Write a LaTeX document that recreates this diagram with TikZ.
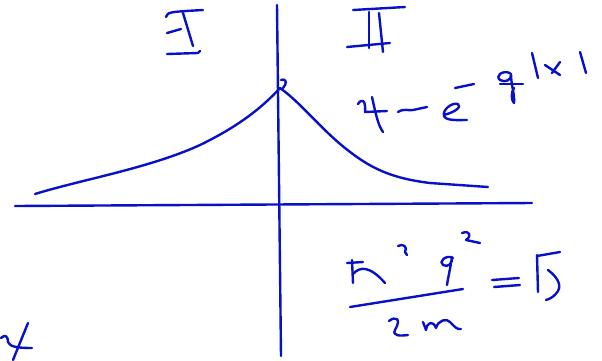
\documentclass[tikz,border=0pt]{standalone}
\definecolor{ink}{RGB}{8,16,200}
\begin{document}
\begin{tikzpicture}[x=1pt,y=-1pt,pen/.style={draw=ink,line width=2.4pt,line cap=round,line join=round}]
\useasboundingbox (0,0) rectangle (602,360);
% axes
\draw[pen] (15,206) -- (532,203);
\draw[pen] (277,5) -- (281,356);
% curve
\draw[pen] (35,194) .. controls (80,180) and (150,168) .. (200,145) .. controls (235,128) and (260,110) .. (280,88)
  .. controls (300,102) and (320,128) .. (345,148) .. controls (370,168) and (390,178) .. (430,183) -- (488,187);
\draw[pen] (281,80) .. controls (287,78) and (287,84) .. (283,88);
% Roman I
\draw[pen] (166,17) .. controls (168,12) .. (203,10);
\draw[pen] (183,13) .. controls (188,30) .. (193,46);
\draw[pen] (167,33) -- (181,29);
\draw[pen] (167,54) -- (198,53) -- (200,51);
% Roman II
\draw[pen] (353,10) -- (405,7);
\draw[pen] (347,47) -- (390,43);
\draw[pen] (369,12) -- (369,48);
\draw[pen] (379,13) -- (383,52);
% psi ~ e^{-q|x|}
\draw[pen] (358,104) .. controls (362,98) and (366,100) .. (365,112) -- (387,111);
\draw[pen] (372,97) .. controls (376,115) and (378,125) .. (383,132);
\draw[pen] (398,112) .. controls (404,108) and (409,111) .. (413,110) -- (427,107);
\draw[pen] (444,115) .. controls (455,112) and (462,107) .. (458,104) .. controls (452,102) and (442,110) .. (444,116) .. controls (446,121) and (458,120) .. (467,120);
\draw[pen] (455,88) -- (474,84);
\draw[pen] (510,73) .. controls (502,70) and (495,76) .. (500,80) .. controls (505,83) and (512,80) .. (511,74) .. controls (511,85) and (515,95) .. (514,103) .. controls (511,100) and (511,92) .. (514,88);
\draw[pen] (500,84) -- (523,84);
\draw[pen] (532,53) -- (538,78);
\draw[pen] (545,65) -- (560,75);
\draw[pen] (560,62) -- (552,73);
\draw[pen] (580,52) -- (586,73);
% hbar^2 q^2 / 2m = B
\draw[pen] (347,263) -- (363,262);
\draw[pen] (352,260) -- (353,283);
\draw[pen] (353,274) .. controls (360,266) and (370,266) .. (385,283);
\draw[pen] (398,246) .. controls (403,243) and (408,247) .. (405,252) -- (407,255);
\draw[pen] (453,258) .. controls (446,254) and (438,262) .. (443,265) .. controls (448,268) and (453,263) .. (452,257) .. controls (450,270) and (448,278) .. (447,285);
\draw[pen] (462,233) .. controls (470,230) and (472,236) .. (466,240) -- (480,243);
\draw[pen] (350,307) -- (463,289);
\draw[pen] (389,321) .. controls (395,316) and (402,318) .. (395,330) .. controls (392,336) and (400,336) .. (408,335);
\draw[pen] (423,322) -- (426,330) .. controls (427,322) and (433,320) .. (436,328) .. controls (438,320) and (447,318) .. (450,322) .. controls (454,326) and (457,330) .. (461,329);
\draw[pen] (492,280) -- (519,278);
\draw[pen] (494,287) -- (520,285);
\draw[pen] (537,255) -- (538,292);
\draw[pen] (537,256) -- (560,252);
\draw[pen] (548,270) .. controls (556,276) and (562,284) .. (558,291) .. controls (555,296) and (550,299) .. (546,300);
% bottom-left psi
\draw[pen] (1,338) .. controls (5,334) and (8,336) .. (8,342) .. controls (10,346) and (14,348) .. (32,348);
\draw[pen] (28,323) -- (13,360);
\end{tikzpicture}
\end{document}
